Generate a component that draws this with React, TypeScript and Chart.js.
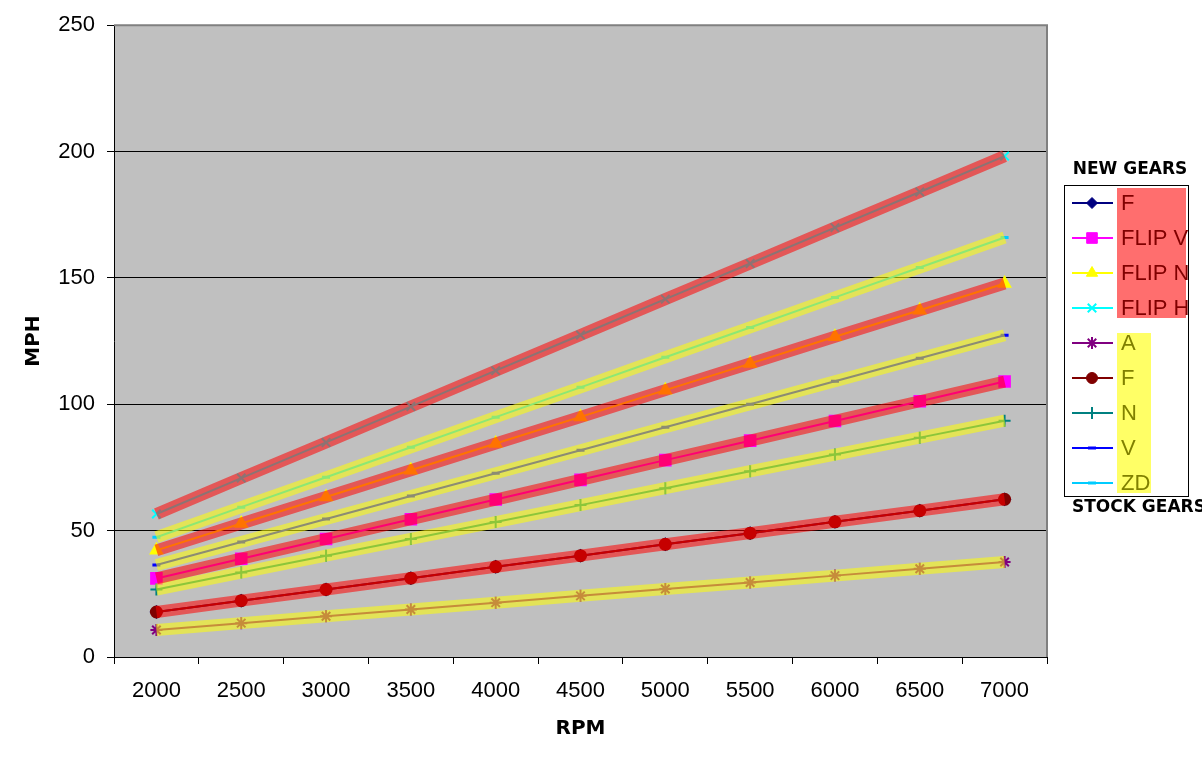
import React, { useEffect, useRef } from 'react';
import { Chart, registerables } from 'chart.js';
import { drawPoint } from 'chart.js/helpers';

Chart.register(...registerables);

// ---------- data ----------
const rpmLabels = ['2000', '2500', '3000', '3500', '4000', '4500', '5000', '5500', '6000', '6500', '7000'];

// NEW GEARS
const newF = [17.8, 22.3, 26.7, 31.2, 35.7, 40.1, 44.6, 49.0, 53.5, 57.9, 62.4];
const flipV = [31.1, 38.9, 46.7, 54.5, 62.3, 70.1, 77.9, 85.6, 93.4, 101.2, 109.0];
const flipN = [42.2, 52.8, 63.3, 73.9, 84.5, 95.0, 105.6, 116.1, 126.7, 137.2, 147.8];
const flipH = [56.6, 70.8, 84.9, 99.1, 113.3, 127.4, 141.6, 155.7, 169.9, 184.0, 198.2];

// STOCK GEARS
const stockA = [10.7, 13.4, 16.1, 18.8, 21.5, 24.2, 26.9, 29.5, 32.2, 34.9, 37.6];
const stockF = [17.8, 22.3, 26.7, 31.2, 35.7, 40.1, 44.6, 49.0, 53.5, 57.9, 62.4];
const stockN = [26.7, 33.4, 40.1, 46.7, 53.4, 60.1, 66.8, 73.5, 80.1, 86.8, 93.5];
const stockV = [36.4, 45.5, 54.6, 63.7, 72.7, 81.8, 90.9, 100.0, 109.1, 118.2, 127.3];
const stockZD = [47.4, 59.3, 71.1, 83.0, 94.9, 106.7, 118.6, 130.4, 142.3, 154.1, 166.0];

const yMin = 0;
const yMax = 250;
const yStep = 50;

type Series = {
  label: string;
  data: number[];
  color: string;
  style: string;
  radius: number;
  band: string | null;
};

const RED_BAND = 'rgba(255,0,0,0.55)';
const YELLOW_BAND = 'rgba(255,255,0,0.55)';

const series: Series[] = [
  { label: 'F', data: newF, color: '#000080', style: 'rectRot', radius: 5.5, band: RED_BAND },
  { label: 'FLIP V', data: flipV, color: '#FF00FF', style: 'rect', radius: 7.5, band: RED_BAND },
  { label: 'FLIP N', data: flipN, color: '#FFFF00', style: 'triangle', radius: 6.5, band: RED_BAND },
  { label: 'FLIP H', data: flipH, color: '#00FFFF', style: 'crossRot', radius: 6, band: RED_BAND },
  { label: 'A', data: stockA, color: '#800080', style: 'star', radius: 6, band: YELLOW_BAND },
  { label: 'F', data: stockF, color: '#800000', style: 'circle', radius: 5.5, band: null },
  { label: 'N', data: stockN, color: '#008080', style: 'cross', radius: 6, band: YELLOW_BAND },
  { label: 'V', data: stockV, color: '#0000FF', style: 'line', radius: 4, band: YELLOW_BAND },
  { label: 'ZD', data: stockZD, color: '#00CCFF', style: 'line', radius: 4, band: YELLOW_BAND },
];

const TICK_FONT = '"Liberation Sans", Arial, sans-serif';
const BOLD_FONT = '"DejaVu Sans", Tahoma, sans-serif';

// ---------- plugins ----------
const plotFrame = {
  id: 'plotFrame',
  beforeDraw(chart: any) {
    const { ctx, chartArea: a } = chart;
    ctx.save();
    ctx.fillStyle = '#C0C0C0';
    ctx.fillRect(a.left, a.top, a.right - a.left, a.bottom - a.top);
    ctx.restore();
  },
  afterDatasetsDraw(chart: any) {
    const { ctx, chartArea: a } = chart;
    ctx.save();
    ctx.strokeStyle = '#808080';
    ctx.lineWidth = 2;
    ctx.beginPath();
    ctx.moveTo(a.left, a.top);
    ctx.lineTo(a.right, a.top);
    ctx.lineTo(a.right, a.bottom);
    ctx.stroke();
    ctx.restore();
  },
};

const gearLegend = {
  id: 'gearLegend',
  afterDraw(chart: any) {
    const ctx = chart.ctx;
    ctx.save();
    ctx.textBaseline = 'middle';

    ctx.fillStyle = '#000';
    ctx.font = `bold 17px ${BOLD_FONT}`;
    ctx.textAlign = 'center';
    ctx.fillText('NEW GEARS', 1130, 170);

    ctx.fillStyle = '#FFFFFF';
    ctx.fillRect(1065, 186, 123, 310);
    ctx.strokeStyle = '#000';
    ctx.lineWidth = 1;
    ctx.strokeRect(1064.5, 185.5, 124, 311);

    ctx.fillStyle = '#FF6E6E';
    ctx.fillRect(1117, 188, 69, 130);
    ctx.fillStyle = '#FFFF66';
    ctx.fillRect(1117, 333, 34, 160);

    series.forEach((s, i) => {
      const y = 203 + 35 * i;
      ctx.strokeStyle = s.color;
      ctx.lineWidth = 2;
      ctx.beginPath();
      ctx.moveTo(1072, y);
      ctx.lineTo(1113, y);
      ctx.stroke();
      ctx.fillStyle = s.color;
      ctx.strokeStyle = s.color;
      const isLine = ['cross', 'crossRot', 'star', 'line'].includes(s.style);
      ctx.lineWidth = s.style === 'line' ? 3 : isLine ? 2 : 1;
      drawPoint(ctx, { pointStyle: s.style, rotation: 0, radius: s.radius, borderWidth: ctx.lineWidth } as any, 1092, y);

      ctx.save();
      ctx.beginPath();
      ctx.rect(1065, 186, 123, 310);
      ctx.clip();
      ctx.font = `22px ${TICK_FONT}`;
      ctx.textAlign = 'left';
      ctx.fillStyle = i < 4 ? '#800000' : '#808000';
      ctx.fillText(s.label, 1121, y + 1);
      ctx.restore();
    });

    ctx.fillStyle = '#000';
    ctx.font = `bold 17px ${BOLD_FONT}`;
    ctx.textAlign = 'left';
    ctx.fillText('STOCK GEARS', 1072, 508);
    ctx.restore();
  },
};

// ---------- component ----------
export default function App() {
  const canvasRef = useRef<HTMLCanvasElement | null>(null);

  useEffect(() => {
    const canvas = canvasRef.current;
    if (!canvas) return;

    const count = series.length;
    const lineSets = series.map((s, i) => ({
      label: s.label,
      data: s.data,
      borderColor: s.color,
      backgroundColor: s.color,
      borderWidth: 2,
      pointStyle: s.style,
      pointRadius: s.radius,
      pointBorderWidth: s.style === 'line' ? 3 : 2,
      pointBackgroundColor: s.color,
      pointBorderColor: s.color,
      tension: 0,
      fill: false,
      order: count + 10 - i,
    }));
    const bandSets = series
      .filter((s) => s.band)
      .map((s) => ({
        label: '',
        data: s.data,
        borderColor: s.band as string,
        backgroundColor: s.band as string,
        borderWidth: 12,
        borderCapStyle: 'butt',
        pointRadius: 0,
        pointHoverRadius: 0,
        tension: 0,
        fill: false,
        order: 0,
      }));

    const chart = new Chart(canvas, {
      type: 'line',
      data: { labels: rpmLabels, datasets: [...bandSets, ...lineSets] as any },
      plugins: [plotFrame, gearLegend],
      options: {
        animation: false,
        responsive: false,
        layout: { padding: { top: 25, right: 155, left: 0, bottom: 0 } },
        plugins: { legend: { display: false }, tooltip: { enabled: false } },
        scales: {
          x: {
            type: 'category',
            offset: true,
            grid: {
              offset: true,
              drawOnChartArea: false,
              drawTicks: true,
              tickLength: 7,
              tickColor: '#000',
            },
            border: { display: true, color: '#000', width: 1 },
            ticks: {
              color: '#000',
              font: { family: TICK_FONT, size: 22 },
              padding: 14,
              maxRotation: 0,
              autoSkip: false,
            },
            title: {
              display: true,
              text: 'RPM',
              color: '#000',
              font: { family: BOLD_FONT, size: 20, weight: 'bold' },
              padding: { top: 0, bottom: 17 },
            },
            afterFit(scale: any) {
              scale.height = 101;
            },
          },
          y: {
            min: yMin,
            max: yMax,
            grid: {
              color: (c: any) => (c.tick && c.tick.value === yMax ? 'rgba(0,0,0,0)' : '#000'),
              lineWidth: 1,
              tickLength: 7,
              tickColor: '#000',
            },
            border: { display: true, color: '#000', width: 1 },
            ticks: {
              stepSize: yStep,
              color: '#000',
              font: { family: TICK_FONT, size: 22 },
              padding: 12,
            },
            title: {
              display: true,
              text: 'MPH',
              color: '#000',
              font: { family: BOLD_FONT, size: 20, weight: 'bold' },
              padding: { top: 22, bottom: 0 },
            },
            afterFit(scale: any) {
              scale.width = 114;
            },
          },
        },
      } as any,
    });

    return () => chart.destroy();
  }, []);

  return (
    <div style={{ position: 'absolute', left: 0, top: 0, width: 1202, height: 758, background: '#fff' }}>
      <canvas ref={canvasRef} width={1202} height={758} style={{ width: 1202, height: 758, display: 'block' }} />
    </div>
  );
}
